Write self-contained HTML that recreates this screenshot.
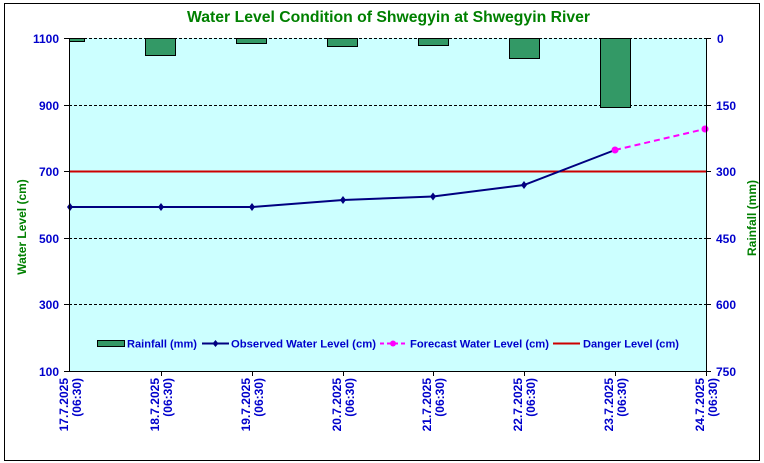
<!DOCTYPE html>
<html><head><meta charset="utf-8"><style>
html,body{margin:0;padding:0;background:#fff;}
svg{display:block;font-family:"Liberation Sans",Arial,sans-serif;font-weight:bold;}
</style></head><body>
<svg width="764" height="463" viewBox="0 0 764 463" xmlns="http://www.w3.org/2000/svg">
<rect x="0" y="0" width="764" height="463" fill="#fff"/>
<rect x="4.5" y="3.5" width="755" height="457" fill="#fff" stroke="#000" stroke-width="1"/>
<text x="187" y="22" font-size="15.5" fill="#008000" textLength="403" lengthAdjust="spacingAndGlyphs">Water Level Condition of Shwegyin at Shwegyin River</text>
<rect x="69" y="38" width="637" height="333" fill="#ccffff"/>
<g stroke="#000" stroke-width="1" stroke-dasharray="3,2">
<line x1="69" y1="38.5" x2="706" y2="38.5"/>
<line x1="69" y1="105.5" x2="706" y2="105.5"/>
<line x1="69" y1="238.5" x2="706" y2="238.5"/>
<line x1="69" y1="304.5" x2="706" y2="304.5"/>
</g>
<g fill="#339966" stroke="#000" stroke-width="1">
<rect x="69.5" y="38.5" width="15" height="3"/>
<rect x="145.5" y="38.5" width="30" height="17"/>
<rect x="236.5" y="38.5" width="30" height="5"/>
<rect x="327.5" y="38.5" width="30" height="8"/>
<rect x="418.5" y="38.5" width="30" height="7"/>
<rect x="509.5" y="38.5" width="30" height="20"/>
<rect x="600.5" y="38.5" width="30" height="69"/>
</g>
<line x1="69" y1="171.5" x2="706" y2="171.5" stroke="#cc0000" stroke-width="2"/>
<polyline points="70,207 161,207 252,207 343,200 433,196.5 524,185 615,150" fill="none" stroke="#000080" stroke-width="2"/>
<g fill="#000080">
<path d="M70,203 l3,4 l-3,4 l-3,-4z"/><path d="M161,203 l3,4 l-3,4 l-3,-4z"/><path d="M252,203 l3,4 l-3,4 l-3,-4z"/><path d="M343,196 l3,4 l-3,4 l-3,-4z"/><path d="M433,192.5 l3,4 l-3,4 l-3,-4z"/><path d="M524,181 l3,4 l-3,4 l-3,-4z"/>
</g>
<line x1="615" y1="150" x2="705" y2="129" stroke="#ff00ff" stroke-width="2" stroke-dasharray="6,4"/>
<circle cx="615" cy="150" r="3.5" fill="#ff00ff"/>
<circle cx="705" cy="129" r="3.5" fill="#ff00ff"/>
<g stroke="#000" stroke-width="1">
<line x1="69.5" y1="38" x2="69.5" y2="371"/>
<line x1="706.5" y1="38" x2="706.5" y2="371"/>
<line x1="69" y1="371.5" x2="707" y2="371.5"/>
<line x1="64" y1="38.5" x2="69" y2="38.5"/><line x1="64" y1="105.5" x2="69" y2="105.5"/><line x1="64" y1="171.5" x2="69" y2="171.5"/><line x1="64" y1="238.5" x2="69" y2="238.5"/><line x1="64" y1="304.5" x2="69" y2="304.5"/><line x1="64" y1="371.5" x2="69" y2="371.5"/>
<line x1="706" y1="38.5" x2="711" y2="38.5"/><line x1="706" y1="105.5" x2="711" y2="105.5"/><line x1="706" y1="171.5" x2="711" y2="171.5"/><line x1="706" y1="238.5" x2="711" y2="238.5"/><line x1="706" y1="304.5" x2="711" y2="304.5"/><line x1="706" y1="371.5" x2="711" y2="371.5"/>
<line x1="161.5" y1="371" x2="161.5" y2="376"/><line x1="252.5" y1="371" x2="252.5" y2="376"/><line x1="343.5" y1="371" x2="343.5" y2="376"/><line x1="433.5" y1="371" x2="433.5" y2="376"/><line x1="524.5" y1="371" x2="524.5" y2="376"/><line x1="615.5" y1="371" x2="615.5" y2="376"/><line x1="706.5" y1="371" x2="706.5" y2="376"/>
</g>
<g font-size="12" fill="#0000cc" text-anchor="end">
<text x="59" y="43">1100</text><text x="59" y="110">900</text><text x="59" y="176">700</text><text x="59" y="243">500</text><text x="59" y="309">300</text><text x="59" y="376">100</text>
</g>
<g font-size="12" fill="#0000cc" text-anchor="start">
<text x="717" y="43">0</text><text x="716" y="110">150</text><text x="716" y="176">300</text><text x="716" y="243">450</text><text x="716" y="309">600</text><text x="716" y="376">750</text>
</g>
<text transform="translate(26,227) rotate(-90)" text-anchor="middle" font-size="12" fill="#008000">Water Level (cm)</text>
<text transform="translate(756,218) rotate(-90)" text-anchor="middle" font-size="12" fill="#008000">Rainfall (mm)</text>
<g font-size="12" fill="#0000cc" text-anchor="end">
<g transform="translate(70,378) rotate(-90)"><text x="0" y="-2">17.7.2025</text><text x="0" y="11">(06:30)</text></g>
<g transform="translate(161,378) rotate(-90)"><text x="0" y="-2">18.7.2025</text><text x="0" y="11">(06:30)</text></g>
<g transform="translate(252,378) rotate(-90)"><text x="0" y="-2">19.7.2025</text><text x="0" y="11">(06:30)</text></g>
<g transform="translate(343,378) rotate(-90)"><text x="0" y="-2">20.7.2025</text><text x="0" y="11">(06:30)</text></g>
<g transform="translate(433,378) rotate(-90)"><text x="0" y="-2">21.7.2025</text><text x="0" y="11">(06:30)</text></g>
<g transform="translate(524,378) rotate(-90)"><text x="0" y="-2">22.7.2025</text><text x="0" y="11">(06:30)</text></g>
<g transform="translate(615,378) rotate(-90)"><text x="0" y="-2">23.7.2025</text><text x="0" y="11">(06:30)</text></g>
<g transform="translate(706,378) rotate(-90)"><text x="0" y="-2">24.7.2025</text><text x="0" y="11">(06:30)</text></g>
</g>
<g font-size="11" fill="#0000cc" lengthAdjust="spacingAndGlyphs">
<rect x="97.5" y="340.5" width="27" height="6" fill="#339966" stroke="#000"/>
<text x="127" y="347.5" textLength="70" lengthAdjust="spacingAndGlyphs">Rainfall (mm)</text>
<line x1="202" y1="343.5" x2="229" y2="343.5" stroke="#000080" stroke-width="2"/>
<path d="M215.5,340 l3,3.5 l-3,3.5 l-3,-3.5z" fill="#000080"/>
<text x="231" y="347.5" textLength="145" lengthAdjust="spacingAndGlyphs">Observed Water Level (cm)</text>
<line x1="380" y1="343.5" x2="407" y2="343.5" stroke="#ff00ff" stroke-width="2" stroke-dasharray="4,3"/>
<circle cx="393" cy="343.5" r="3" fill="#ff00ff"/>
<text x="410" y="347.5" textLength="139" lengthAdjust="spacingAndGlyphs">Forecast Water Level (cm)</text>
<line x1="553" y1="343.5" x2="580" y2="343.5" stroke="#cc0000" stroke-width="2"/>
<text x="583" y="347.5" textLength="96" lengthAdjust="spacingAndGlyphs">Danger Level (cm)</text>
</g>
</svg>
</body></html>
